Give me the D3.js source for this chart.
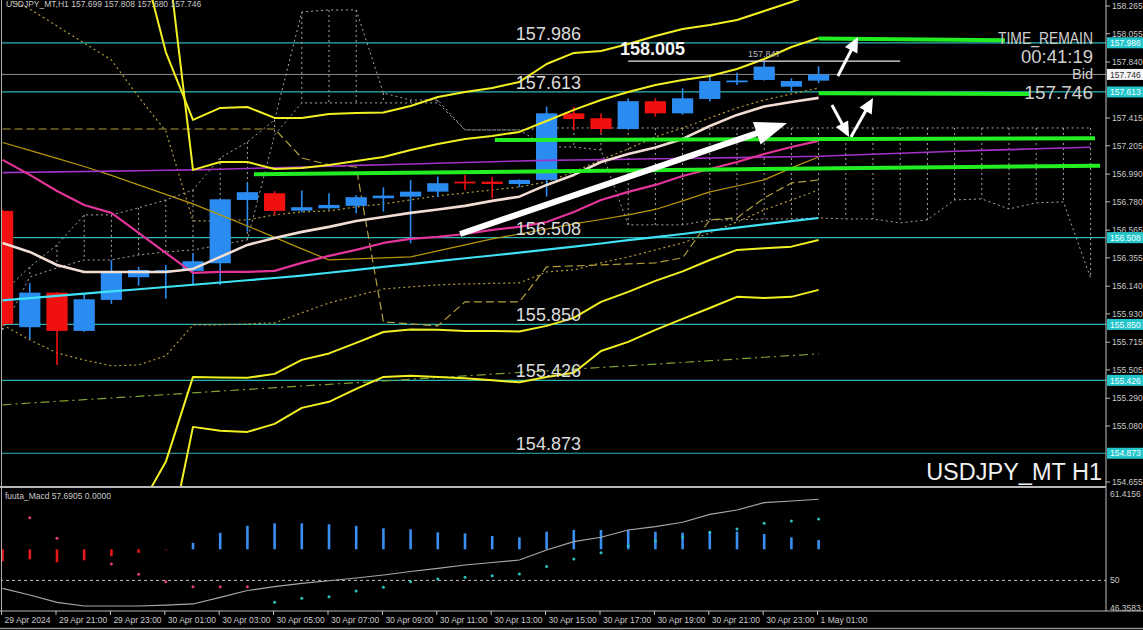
<!DOCTYPE html>
<html><head><meta charset="utf-8">
<script src="https://cdn.jsdelivr.net/npm/d3@7/dist/d3.min.js"></script>
<style>
html,body{margin:0;padding:0;background:#000;}
svg{display:block;font-family:"Liberation Sans",Arial,sans-serif;}
</style></head><body>
<svg id="chart" width="1143" height="630"></svg>
<script>
// ================= DATA =================
const symbol = "USDJPY_MT";
const startTime = Date.UTC(2024, 3, 29, 19); // 29 Apr 19:00, H1 bars
const open  = [156.711,155.829,156.091,155.801,156.036,156.208,156.256,156.256,156.314,156.794,156.845,156.713,156.731,156.749,156.807,156.819,156.857,156.933,156.933,156.915,156.946,157.451,157.414,157.332,157.543,157.451,157.560,157.690,157.704,157.653,157.699];
const high  = [156.720,156.163,156.095,156.089,156.339,156.288,156.301,156.392,156.800,156.923,156.860,156.865,156.845,156.830,156.890,156.946,156.971,156.984,156.970,156.950,157.502,157.500,157.450,157.565,157.565,157.641,157.742,157.759,157.847,157.717,157.808];
const low   = [155.840,155.740,155.543,155.795,156.006,156.144,156.044,156.150,156.150,156.554,156.680,156.700,156.720,156.693,156.706,156.466,156.819,156.870,156.807,156.890,156.819,157.325,157.300,157.330,157.426,157.440,157.540,157.666,157.700,157.615,157.680];
const close = [155.854,156.091,155.801,156.041,156.243,156.263,156.262,156.329,156.799,156.853,156.711,156.739,156.756,156.815,156.827,156.857,156.921,156.925,156.915,156.946,157.451,157.408,157.332,157.543,157.451,157.565,157.696,157.700,157.805,157.696,157.746];

const maWhite   = [156.468,156.400,156.301,156.248,156.248,156.248,156.248,156.271,156.362,156.453,156.506,156.552,156.590,156.635,156.665,156.696,156.722,156.749,156.787,156.819,156.908,156.984,157.082,157.143,157.192,157.257,157.355,157.439,157.503,157.537,157.568];
const maMagenta = [157.098,156.984,156.862,156.756,156.696,156.544,156.392,156.241,156.248,156.248,156.256,156.317,156.370,156.415,156.468,156.499,156.514,156.536,156.567,156.590,156.627,156.703,156.794,156.855,156.908,156.976,157.029,157.082,157.143,157.196,157.242];
const maCyan    = [156.032,156.050,156.066,156.083,156.101,156.117,156.134,156.151,156.168,156.185,156.202,156.220,156.242,156.264,156.286,156.308,156.330,156.352,156.373,156.395,156.417,156.440,156.464,156.489,156.512,156.536,156.561,156.584,156.609,156.633,156.657];
const maPurple  = [157.001,157.004,157.007,157.010,157.013,157.016,157.019,157.022,157.027,157.033,157.038,157.044,157.050,157.056,157.061,157.067,157.072,157.078,157.084,157.090,157.094,157.097,157.100,157.103,157.106,157.109,157.112,157.115,157.119,157.122,157.125,157.133,157.141,157.148,157.156,157.163,157.170,157.176,157.182,157.188,157.194];
const maOlive   = [157.230,157.170,157.109,157.048,156.980,156.908,156.836,156.764,156.681,156.597,156.510,156.423,156.339,156.347,156.355,156.362,156.408,156.453,156.499,156.536,156.574,156.612,156.646,156.681,156.722,156.787,156.855,156.900,156.946,157.037,157.120];
const maGreenDashDot = [155.240,155.254,155.267,155.279,155.292,155.305,155.318,155.331,155.344,155.357,155.370,155.383,155.396,155.408,155.421,155.434,155.447,155.460,155.473,155.486,155.498,155.511,155.524,155.536,155.549,155.562,155.575,155.588,155.601,155.614,155.627];

const bandUpper3 = [null,null,null,null,null,158.720,157.916,157.401,157.492,157.499,157.416,157.416,157.446,157.454,157.458,157.507,157.575,157.613,157.643,157.689,157.825,157.909,157.924,157.977,158.038,158.091,158.121,158.159,158.227,158.295,158.371];
const bandUpper2 = [null,null,null,null,null,null,158.765,157.022,157.082,157.082,157.029,157.037,157.060,157.090,157.120,157.173,157.219,157.257,157.279,157.310,157.393,157.477,157.552,157.613,157.666,157.704,157.734,157.787,157.863,157.954,158.022];
const bandLower2 = [null,null,null,null,null,154.444,154.808,155.452,155.448,155.445,155.475,155.581,155.630,155.710,155.793,155.812,155.809,155.801,155.801,155.797,155.839,155.900,156.021,156.097,156.180,156.252,156.339,156.415,156.427,156.440,156.491];
const bandLower3 = [null,null,null,null,null,null,154.072,155.073,155.043,155.035,155.096,155.217,155.263,155.361,155.452,155.460,155.452,155.441,155.426,155.411,155.452,155.483,155.649,155.718,155.809,155.892,155.975,156.059,156.051,156.059,156.112];

const lineDashed    = [157.332,157.332,157.332,157.332,157.332,157.332,157.332,157.332,157.332,157.332,157.332,157.113,157.060,157.044,155.869,155.854,155.839,156.021,156.021,156.021,156.286,156.294,156.301,156.309,156.317,156.355,156.643,156.658,156.809,156.923,156.946];
const lineDotUpper  = [158.333,158.242,158.113,157.984,157.856,157.575,157.317,156.635,156.635,156.643,156.681,156.703,156.711,156.741,156.764,156.794,156.825,156.847,156.870,156.893,156.931,157.007,157.098,157.181,157.272,157.340,157.416,157.492,157.552,157.598,157.643];
const lineDotLower  = [155.847,155.733,155.634,155.581,155.536,155.543,155.612,155.847,155.847,155.854,155.862,155.938,156.013,156.066,156.119,156.135,156.150,156.157,156.161,156.165,156.248,156.264,156.317,156.362,156.415,156.468,156.544,156.627,156.718,156.794,156.870];

const cloudA = [156.089,156.286,156.453,156.681,156.681,156.734,156.794,156.870,157.113,157.234,157.401,158.220,158.235,158.235,157.605,157.552,157.552,157.325,157.325,157.325,157.340,157.340,157.340,157.340,157.340,157.340,157.340,157.340,157.340,157.340,157.340,157.340,157.340,157.340,157.340,157.340,157.340,157.340,157.340,157.340,157.340];
const cloudB = [155.809,156.210,156.279,156.339,156.339,156.377,156.400,156.415,156.453,156.491,157.287,157.530,157.530,157.530,157.530,157.530,157.530,157.325,157.325,157.325,157.196,157.196,157.173,156.605,156.605,156.605,156.643,156.643,156.650,156.650,156.658,156.650,156.650,156.620,156.643,156.794,156.802,156.726,156.772,156.779,156.203];

const levelLines = [157.986, 157.613, 156.508, 155.850, 155.426, 154.873];
const bidPrice = 157.746;
const priceTicks = [158.265,158.055,157.840,157.415,157.205,156.990,156.780,156.565,156.355,156.140,155.930,155.715,155.505,155.290,155.080,154.655];

// green trend lines: [bar index, price] pairs
const greenLines = [
  [[30, 158.018], [36.85, 158.006]],
  [[30, 157.603], [37.77, 157.598]],
  [[18.1, 157.249], [40.16, 157.262]],
  [[9.24, 156.989], [40.35, 157.054]]
];
const highMarkLine = [[23, 157.847], [33, 157.847]];
const arrows = [
  {from: [16.82, 156.536], to: [28.84, 157.378], w: 6},
  {from: [30.71, 157.734], to: [31.45, 158.030], w: 3},
  {from: [30.49, 157.514], to: [31.12, 157.272], w: 3},
  {from: [31.19, 157.272], to: [32.00, 157.568], w: 3}
];

// MACD panel
const macdHist   = [-0.12,-0.10,-0.13,-0.11,-0.07,-0.035,-0.005,0.065,0.165,0.235,0.26,0.26,0.25,0.235,0.21,0.20,0.17,0.16,0.133,0.12,0.176,0.193,0.193,0.193,0.176,0.166,0.176,0.176,0.153,0.12,0.093];
const macdLine   = [48.96,48.08,47.11,46.62,46.62,46.62,46.75,46.89,47.77,48.67,49.17,49.60,49.96,50.32,50.72,51.18,51.60,52.04,52.37,52.70,54.02,55.12,55.70,56.66,57.10,57.68,58.73,59.30,60.27,60.49,60.72];
const dotsDown   = [null,58.29,55.56,null,52.17,50.81,49.83,49.17,49.17,49.17];
const dotsUp     = [null,null,null,null,null,null,null,null,null,null,47.11,47.64,47.85,48.60,49.09,49.83,50.19,50.41,50.62,50.85,51.84,52.83,53.66,54.55,55.21,55.74,56.36,56.79,57.55,57.85,58.12];
const macdTicks  = [{v:61.4156,t:"61.4156"},{v:50,t:"50"},{v:46.3583,t:"46.3583"}];

const timeLabels = [
  [0,"29 Apr 2024"],[2,"29 Apr 21:00"],[4,"29 Apr 23:00"],[6,"30 Apr 01:00"],[8,"30 Apr 03:00"],
  [10,"30 Apr 05:00"],[12,"30 Apr 07:00"],[14,"30 Apr 09:00"],[16,"30 Apr 11:00"],[18,"30 Apr 13:00"],
  [20,"30 Apr 15:00"],[22,"30 Apr 17:00"],[24,"30 Apr 19:00"],[26,"30 Apr 21:00"],[28,"30 Apr 23:00"],[30,"1 May 01:00"]
];

// ================= CHART =================
const svg = d3.select("#chart");
const AX = 1106, MAIN_B = 486, MACD_B = 611;
const tOf = idx => new Date(startTime + idx * 3600000);
const x = d3.scaleTime().domain([tOf(0), tOf(30)]).range([2.6, 818.6]);
const X = idx => x(tOf(idx));
const y = d3.scaleLinear().domain([154.655, 158.265]).range([482, 6]);
const ym = d3.scaleLinear().domain([46.3583, 61.4156]).range([608, 494]);
const yh = d3.scaleLinear().domain([0, 0.26]).range([549.3, 523.3]);

svg.append("rect").attr("width",1143).attr("height",630).attr("fill","#000");
const defs = svg.append("defs");
defs.append("clipPath").attr("id","cm").append("rect").attr("x",2).attr("y",0).attr("width",AX-2).attr("height",MAIN_B);
defs.append("clipPath").attr("id","cd").append("rect").attr("x",2).attr("y",489).attr("width",AX-2).attr("height",MACD_B-489);

const main = svg.append("g").attr("clip-path","url(#cm)");
const pts = arr => arr.map((v,i)=>({i,v}));
const line = d3.line().defined(d=>d.v!=null).x(d=>X(d.i)).y(d=>y(d.v));
function drawLine(g, arr, color, width, dash){
  const p = g.append("path").datum(pts(arr)).attr("d",line).attr("fill","none")
    .attr("stroke",color).attr("stroke-width",width).attr("stroke-linejoin","round");
  if(dash) p.attr("stroke-dasharray",dash);
  return p;
}

// horizontal levels
main.selectAll("line.lvl").data(levelLines).join("line")
  .attr("x1",0).attr("x2",AX).attr("y1",d=>y(d)).attr("y2",d=>y(d))
  .attr("stroke","#2fb4b4").attr("stroke-width",1.2);
main.append("line").attr("x1",0).attr("x2",AX).attr("y1",y(bidPrice)).attr("y2",y(bidPrice))
  .attr("stroke","#8c8c8c").attr("stroke-width",1);

// cloud (dotted)
const gCloud = main.append("g");
drawLine(gCloud, cloudA, "#a8a8a8", 1, "2,3");
drawLine(gCloud, cloudB, "#a8a8a8", 1, "2,3");
gCloud.selectAll("line").data(cloudA.map((a,i)=>({i,a,b:cloudB[i]}))).join("line")
  .attr("x1",d=>X(d.i)).attr("x2",d=>X(d.i)).attr("y1",d=>y(d.a)).attr("y2",d=>y(d.b))
  .attr("stroke","#a8a8a8").attr("stroke-width",1).attr("stroke-dasharray","2,3");

// olive dashed / dotted lines
drawLine(main, lineDashed, "#b4a03c", 1.2, "8,4");
drawLine(main, lineDotUpper, "#b49a3c", 1.2, "2,3");
drawLine(main, lineDotLower, "#b49a3c", 1.2, "2,3");
drawLine(main, maGreenDashDot, "#7fa032", 1.2, "9,4,2,4");

// candles
const bull = "#2a8cf0", bear = "#f01010";
const candles = open.map((o,i)=>({i,o,h:high[i],l:low[i],c:close[i]}));
const bodyW = (X(1)-X(0))*0.78;
const gC = main.append("g");
gC.selectAll("line").data(candles).join("line")
  .attr("x1",d=>X(d.i)).attr("x2",d=>X(d.i)).attr("y1",d=>y(d.h)).attr("y2",d=>y(d.l))
  .attr("stroke",d=>d.c>=d.o?bull:bear).attr("stroke-width",1.6);
gC.selectAll("rect").data(candles).join("rect")
  .attr("x",d=>X(d.i)-bodyW/2).attr("width",bodyW)
  .attr("y",d=>y(Math.max(d.o,d.c))).attr("height",d=>Math.max(1.8,Math.abs(y(d.o)-y(d.c))))
  .attr("fill",d=>d.c>=d.o?bull:bear);

// moving averages & bands
drawLine(main, maOlive, "#b8960b", 1.2);
drawLine(main, maPurple, "#a232c8", 1.6);
drawLine(main, maCyan, "#3fe2f4", 2.2);
drawLine(main, maMagenta, "#e4349a", 2.2);
drawLine(main, maWhite, "#f2ddd2", 2.6);
[bandUpper3, bandUpper2, bandLower2, bandLower3].forEach(b => drawLine(main, b, "#f2f023", 2));

// green trend lines
main.selectAll("line.g").data(greenLines).join("line")
  .attr("x1",d=>X(d[0][0])).attr("y1",d=>y(d[0][1])).attr("x2",d=>X(d[1][0])).attr("y2",d=>y(d[1][1]))
  .attr("stroke","#22ee22").attr("stroke-width",4);
// high mark
main.append("line").attr("x1",X(highMarkLine[0][0])).attr("x2",X(highMarkLine[1][0]))
  .attr("y1",y(highMarkLine[0][1])).attr("y2",y(highMarkLine[1][1])).attr("stroke","#e8e8e8").attr("stroke-width",1.3);
main.append("text").attr("x",X(28)).attr("y",y(157.847)-4).attr("text-anchor","middle")
  .attr("font-size",9).attr("fill","#b8b8b8").text("157.847");
main.append("text").attr("x",X(22.7)).attr("y",y(158.005)+15)
  .attr("font-size",18).attr("font-weight","bold").attr("fill","#f4f4f4").text("158.005");

// arrows
arrows.forEach(a=>{
  const x1=X(a.from[0]), y1=y(a.from[1]), x2=X(a.to[0]), y2=y(a.to[1]);
  const dx=x2-x1, dy=y2-y1, L=Math.hypot(dx,dy), ux=dx/L, uy=dy/L;
  const hl = a.w>4 ? 32 : 15, hw = a.w>4 ? 12 : 7;
  const bx=x2-ux*hl, by=y2-uy*hl;
  main.append("line").attr("x1",x1).attr("y1",y1).attr("x2",bx+ux*2).attr("y2",by+uy*2)
    .attr("stroke","#fff").attr("stroke-width",a.w);
  main.append("path").attr("d",`M${x2},${y2}L${bx-uy*hw},${by+ux*hw}L${bx+uy*hw},${by-ux*hw}Z`).attr("fill","#fff");
});

// level texts
main.selectAll("text.lv").data(levelLines).join("text")
  .attr("x",X(18.87)).attr("y",d=>y(d)-3).attr("font-size",18).attr("fill","#dcdcdc")
  .text(d=>d.toFixed(3));

// corner texts
svg.append("text").attr("x",6).attr("y",7).attr("font-size",8.5).attr("fill","#c8c8c8")
  .text(`${symbol},H1  ${open[30].toFixed(3)} ${high[30].toFixed(3)} ${low[30].toFixed(3)} ${close[30].toFixed(3)}`);
const tr = svg.append("g").attr("fill","#cfcfcf").attr("text-anchor","end");
tr.append("text").attr("x",1093).attr("y",44).attr("font-size",16).attr("textLength",95).attr("lengthAdjust","spacingAndGlyphs").text("TIME_REMAIN");
tr.append("text").attr("x",1093).attr("y",63).attr("font-size",18.5).text("00:41:19");
tr.append("text").attr("x",1093).attr("y",79).attr("font-size",14.5).text("Bid");
tr.append("text").attr("x",1093).attr("y",98.5).attr("font-size",19).text(close[30].toFixed(3));
svg.append("text").attr("x",1102).attr("y",480).attr("text-anchor","end").attr("font-size",23.5).attr("fill","#f0f0f0").text(`${symbol} H1`);

// borders & price axis
svg.append("line").attr("x1",AX).attr("x2",AX).attr("y1",0).attr("y2",MACD_B).attr("stroke","#c0c0c0").attr("stroke-width",1);
svg.append("line").attr("x1",1.5).attr("x2",1.5).attr("y1",0).attr("y2",MACD_B).attr("stroke","#b0b0b0").attr("stroke-width",1);
svg.append("line").attr("x1",0).attr("x2",AX).attr("y1",487).attr("y2",487).attr("stroke","#b8b8b8").attr("stroke-width",2);
svg.append("line").attr("x1",0).attr("x2",1143).attr("y1",MACD_B).attr("y2",MACD_B).attr("stroke","#b8b8b8").attr("stroke-width",1.2);
svg.append("line").attr("x1",0).attr("x2",1143).attr("y1",628.5).attr("y2",628.5).attr("stroke","#909090").attr("stroke-width",1.5);

const pa = svg.append("g");
pa.selectAll("line").data(priceTicks).join("line").attr("x1",AX).attr("x2",AX+4)
  .attr("y1",d=>y(d)).attr("y2",d=>y(d)).attr("stroke","#c0c0c0");
pa.selectAll("text").data(priceTicks).join("text").attr("x",1112).attr("y",d=>y(d)+3)
  .attr("font-size",8.5).attr("fill","#c8c8c8").text(d=>d.toFixed(3));
const boxes = levelLines.map(v=>({v,bg:"#24c6cc",fg:"#f4ffff"})).concat([{v:bidPrice,bg:"#f4f4f4",fg:"#303030"}]);
const bx = pa.selectAll("g.b").data(boxes).join("g");
bx.append("rect").attr("x",AX+1).attr("y",d=>y(d.v)-5.5).attr("width",37).attr("height",11).attr("fill",d=>d.bg);
bx.append("text").attr("x",1110).attr("y",d=>y(d.v)+3.2).attr("font-size",8.5).attr("fill",d=>d.fg).text(d=>d.v.toFixed(3));

// ================= MACD PANEL =================
const md = svg.append("g").attr("clip-path","url(#cd)");
md.append("line").attr("x1",0).attr("x2",AX).attr("y1",ym(50)).attr("y2",ym(50))
  .attr("stroke","#c0c0c0").attr("stroke-dasharray","3,3");
md.selectAll("line.h").data(macdHist.map((v,i)=>({i,v}))).join("line")
  .attr("x1",d=>X(d.i)).attr("x2",d=>X(d.i)).attr("y1",yh(0)).attr("y2",d=>yh(d.v))
  .attr("stroke",d=>d.v>=0?"#3a8ef0":"#e41818").attr("stroke-width",2.6);
md.append("path").datum(pts(macdLine)).attr("fill","none").attr("stroke","#a8a8a8").attr("stroke-width",1.2)
  .attr("d",d3.line().x(d=>X(d.i)).y(d=>ym(d.v)));
md.selectAll("circle.dn").data(pts(dotsDown).filter(d=>d.v!=null)).join("circle")
  .attr("cx",d=>X(d.i)).attr("cy",d=>ym(d.v)).attr("r",1.5).attr("fill","#e0406a");
md.selectAll("circle.up").data(pts(dotsUp).filter(d=>d.v!=null)).join("circle")
  .attr("cx",d=>X(d.i)).attr("cy",d=>ym(d.v)).attr("r",1.5).attr("fill","#28c0c0");
svg.append("text").attr("x",5).attr("y",498.5).attr("font-size",8.5).attr("fill","#c8c8c8")
  .text("fuuta_Macd 57.6905  0.0000");
svg.selectAll("text.mt").data(macdTicks).join("text").attr("x",1110).attr("y",d=>ym(d.v)+3)
  .attr("font-size",8.5).attr("fill","#c8c8c8").text(d=>d.t);

// time axis
const ta = svg.append("g");
ta.selectAll("line").data(timeLabels).join("line").attr("x1",d=>X(d[0])-1).attr("x2",d=>X(d[0])-1)
  .attr("y1",MACD_B).attr("y2",MACD_B+4).attr("stroke","#c0c0c0");
ta.selectAll("text").data(timeLabels).join("text").attr("x",d=>X(d[0])+2).attr("y",622.5)
  .attr("font-size",8.5).attr("fill","#c8c8c8").text(d=>d[1]);
</script>
</body></html>
